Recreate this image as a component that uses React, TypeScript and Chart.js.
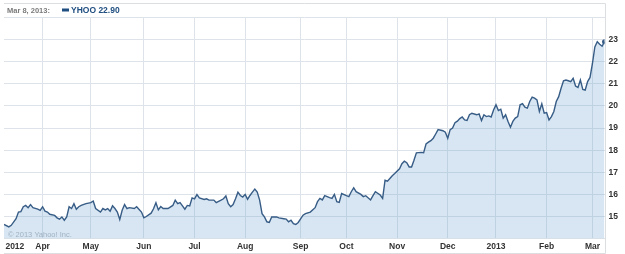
import React, { useEffect, useRef } from "react";
import { Chart, registerables } from "chart.js";

Chart.register(...registerables);

// Trading-session number (0 = first session shown) and closing price
const sessions = [
  0, 2, 3, 5, 6, 7, 8, 9, 10, 11, 12, 14, 15, 16, 17, 18, 19, 21, 22, 23, 24, 25, 26, 27, 28, 29, 30, 31, 32, 34,
  36, 37, 38, 40, 41, 42, 43, 44, 45, 46, 47, 48, 49, 50, 51, 52, 54, 55, 57, 58, 59, 61, 62, 63, 64, 65, 66, 68,
  70, 71, 72, 73, 74, 75, 76, 77, 78, 79, 80, 81, 83, 84, 85, 87, 88, 90, 91, 92, 93, 94, 95, 96, 97, 98, 99, 100,
  101, 102, 103, 104, 105, 106, 107, 108, 109, 110, 111, 113, 114, 116, 117, 118, 119, 120, 121, 122, 124, 125,
  127, 129, 130, 131, 132, 133, 135, 136, 137, 138, 139, 140, 142, 143, 144, 145, 146, 148, 149, 150, 152, 153,
  154, 156, 157, 158, 159, 160, 161, 162, 164, 165, 166, 167, 168, 169, 170, 171, 173, 174, 175, 176, 177, 178,
  179, 180, 182, 183, 184, 185, 186, 187, 188, 189, 190, 191, 192, 193, 194, 196, 197, 198, 199, 200, 201, 202,
  203, 204, 205, 206, 207, 208, 209, 210, 211, 212, 213, 214, 215, 216, 217, 218, 219, 220, 221, 222, 223, 224,
  225, 226, 227, 228, 229, 230, 231, 232, 233, 234, 235, 236, 237, 238, 239, 240, 241, 242, 243, 244, 245, 246,
  247, 248, 249,
];

const closes = [
  14.64, 14.53, 14.6, 14.9, 15.2, 15.22, 15.44, 15.5, 15.4, 15.54, 15.4, 15.33, 15.28, 15.44, 15.24, 15.2, 15.1,
  15.05, 14.94, 14.88, 14.98, 14.83, 14.98, 15.44, 15.36, 15.58, 15.33, 15.44, 15.5, 15.58,
  15.63, 15.7, 15.36, 15.2, 15.36, 15.3, 15.36, 15.24, 15.48, 15.36, 15.2, 14.86, 15.28, 15.54, 15.36, 15.4,
  15.36, 15.44, 15.2, 14.94, 15.0, 15.15, 15.35, 15.62, 15.3, 15.45, 15.36, 15.36,
  15.5, 15.74, 15.58, 15.63, 15.48, 15.33, 15.5, 15.48, 15.84, 15.8, 15.99, 15.84, 15.77, 15.8, 15.74, 15.74,
  15.63, 15.74, 15.8, 15.93, 15.58, 15.44, 15.54, 15.8, 16.1, 15.95, 15.88, 16.0,
  15.78, 15.95, 16.1, 16.24, 16.1, 15.74, 15.13, 14.98, 14.76, 14.73, 14.98, 14.98, 14.94, 14.9, 14.88, 14.76,
  14.83, 14.68, 14.64, 14.73, 15.06, 15.13,
  15.2, 15.4, 15.67, 15.82, 15.75, 15.94, 15.85, 15.82, 16.0, 15.67, 15.64, 16.04, 15.94, 15.9, 16.12, 16.3,
  16.12, 16.0, 15.9, 15.94, 15.75, 15.94,
  16.12, 15.97, 15.82, 16.64, 16.6, 16.72, 16.84, 16.94, 17.16, 17.39, 17.5, 17.43, 17.24, 17.24, 17.54, 17.88,
  17.9, 17.88, 18.28, 18.36, 18.43, 18.54,
  18.73, 18.93, 18.88, 18.81, 18.54, 18.93, 19.0, 19.24, 19.31, 19.43, 19.5, 19.37, 19.34, 19.6, 19.67, 19.6,
  19.64, 19.34, 19.6, 19.52, 19.55, 19.5,
  19.82, 20.05, 19.79, 19.85, 19.45, 19.6, 19.3, 19.04, 19.3, 19.45, 19.52, 20.05, 20.1, 19.94, 19.9, 20.2,
  20.4, 20.35, 20.27, 19.75, 20.1, 19.67,
  19.7, 19.37, 19.52, 19.75, 20.2, 20.42, 20.8, 21.14, 21.17, 21.14, 21.1, 21.25, 20.9, 20.84, 21.17, 20.75,
  20.72, 21.1, 21.29, 21.92, 22.67, 22.9,
  22.79, 22.7, 22.9,
];

// Month-start sessions on the time axis and their labels
const tickSessions = [4.5, 16, 36, 58, 79, 100, 123, 142, 163, 184, 204, 225, 244];
const tickLabels = ["2012", "Apr", "May", "Jun", "Jul", "Aug", "Sep", "Oct", "Nov", "Dec", "2013", "Feb", "Mar"];

const headerDate = "Mar 8, 2013:";
const headerSeries = "YHOO 22.90";
const watermark = "\u00a9 2013 Yahoo! Inc.";

const FONT = "'Liberation Sans', Arial, sans-serif";
const LINE = "#375c86";

export default function App() {
  const ref = useRef<HTMLCanvasElement | null>(null);

  useEffect(() => {
    document.body.style.margin = "0";
    const canvas = ref.current;
    if (!canvas) return;

    const framePlugin = {
      id: "frame",
      afterDraw(chart: any) {
        const { ctx, chartArea } = chart;
        const L = chartArea.left;
        const R = Math.round(chartArea.right) + 0.5;
        ctx.save();
        ctx.strokeStyle = "#dcdfe2";
        ctx.lineWidth = 1;
        ctx.beginPath();
        ctx.moveTo(L, 3.5);
        ctx.lineTo(R, 3.5);
        ctx.moveTo(R, 3.5);
        ctx.lineTo(R, 253.5);
        ctx.moveTo(L, 253.5);
        ctx.lineTo(R, 253.5);
        ctx.stroke();
        ctx.textBaseline = "middle";
        ctx.font = `bold 7.5px ${FONT}`;
        ctx.fillStyle = "#7a7a7a";
        ctx.fillText(headerDate, 7, 10.5);
        ctx.fillStyle = "#1f4e80";
        ctx.fillRect(62, 8.5, 7, 3);
        ctx.font = `bold 8.5px ${FONT}`;
        ctx.fillText(headerSeries, 71, 10.5);
        ctx.font = `7.5px ${FONT}`;
        ctx.fillStyle = "rgba(150,168,186,0.85)";
        ctx.fillText(watermark, 8, 234.5);
        ctx.restore();
      },
    };

    const data = sessions.map((s, i) => ({ x: s, y: closes[i] }));
    const last = data.length - 1;

    const chart = new Chart(canvas, {
      type: "line",
      data: {
        datasets: [
          {
            data,
            borderColor: LINE,
            borderWidth: 1.4,
            backgroundColor: "rgba(110,165,210,0.28)",
            fill: "start",
            tension: 0,
            pointRadius: (c: any) => (c.dataIndex === last ? 2.5 : 0),
            pointBackgroundColor: LINE,
            pointBorderWidth: 0,
            pointHoverRadius: 0,
          },
        ],
      },
      options: {
        responsive: false,
        animation: false,
        devicePixelRatio: 1,
        layout: { padding: { left: 4, right: 0, top: 17.5, bottom: 0 } },
        plugins: { legend: { display: false }, tooltip: { enabled: false } },
        events: [],
        scales: {
          x: {
            type: "linear",
            min: 0,
            max: 249,
            afterBuildTicks: (scale: any) => {
              scale.ticks = tickSessions.map((v) => ({ value: v }));
            },
            afterFit: (scale: any) => {
              scale.height = 15.4;
            },
            ticks: {
              autoSkip: false,
              maxRotation: 0,
              padding: 3,
              color: "#333333",
              font: { family: FONT, size: 8.5, weight: "bold" },
              callback: (_v: any, i: number) => tickLabels[i],
            },
            grid: {
              drawTicks: false,
              color: (c: any) => (c.tick && c.tick.value === tickSessions[0] ? "rgba(0,0,0,0)" : "#dde3e9"),
            },
            border: { display: false },
          },
          y: {
            position: "right",
            min: 14,
            max: 24,
            afterFit: (scale: any) => {
              scale.width = 20.5;
            },
            ticks: {
              stepSize: 1,
              padding: 4,
              color: "#333333",
              font: { family: FONT, size: 8.5, weight: "bold" },
              callback: (v: any) => (v === 14 || v === 24 ? "" : String(v)),
            },
            grid: { drawTicks: false, color: "#dde3e9" },
            border: { display: false },
          },
        },
      },
      plugins: [framePlugin],
    } as any);

    return () => chart.destroy();
  }, []);

  return <canvas ref={ref} width={625} height={254} style={{ display: "block" }} />;
}
